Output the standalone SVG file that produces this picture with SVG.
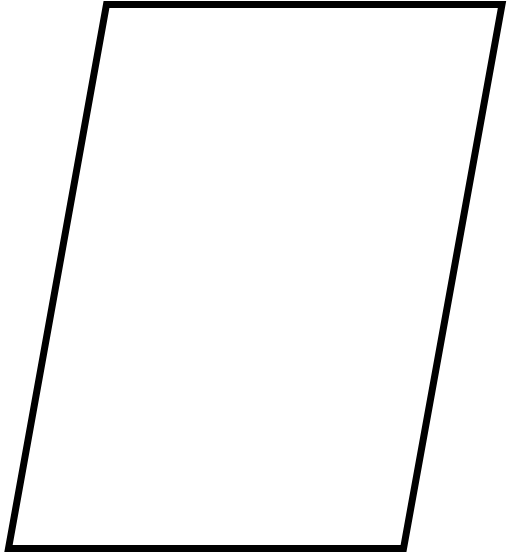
<svg xmlns="http://www.w3.org/2000/svg" width="511" height="555" viewBox="0 0 511 555">
<style>.shape{fill:#ffffff;stroke:#000000;stroke-width:7;stroke-linejoin:miter;stroke-miterlimit:10}</style>
<rect width="511" height="555" fill="#ffffff"/>
<g id="node1">
<polygon class="shape" points="106.5,4.5 502,4.5 403.5,548.5 8.5,548.5"/>
</g>
<g id="connectors"/>
</svg>
